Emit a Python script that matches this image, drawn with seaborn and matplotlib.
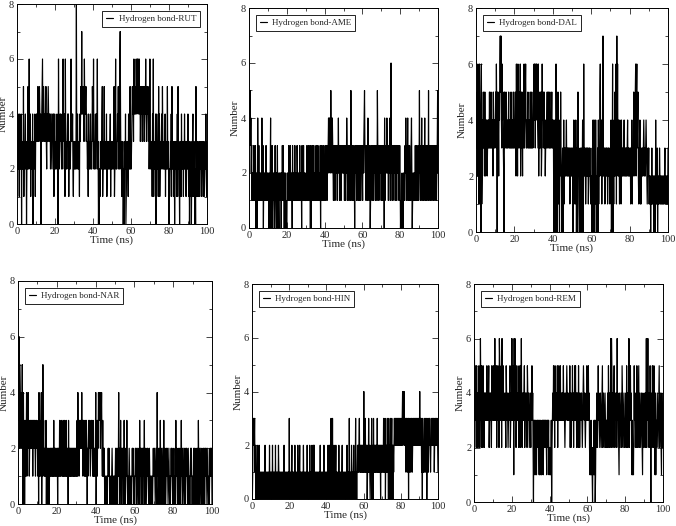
import numpy as np
import pandas as pd
import seaborn as sns
import matplotlib.pyplot as plt
from matplotlib.ticker import MultipleLocator

# hydrogen bond counts, one string per 10 ns block
rut = ["23242314232403232513234230232523632413232402323413",
       "34343543454340345634543434532434543434234323434134",
       "32323431063234343234263434163232343413232363434213",
       "23232382342323143454745454364545343231423234232354",
       "36232342343623020213232451232523232412323232341323",
       "32323512362323435232674231323020232401232314232523",
       "23454536454546546564564534545345453454643454534236",
       "32323142613232402432315241232342532323241323252320",
       "21232415232313023231241523202321423231324232132324",
       "21302123021341232020531231213123231232313212324213"]
ame = ["45353423121213121302120421312121214213021212131212",
       "12102124021301212013120213021021212021313120212010",
       "02121312131212031212131212132121213121203121312121",
       "12131213121303021312131212131321312121303131213121",
       "23132313234243425342432132313232313242313231232323",
       "23132132431323132315231312132023231323123132313232",
       "13234532313231423132013231323123231323153231323231",
       "32313230413232432313234136231313232313231323231232",
       "01012010212132421324132131213420121212131213121312",
       "52313241323132413231323151323132313231323132312352"]
dal = ["34352634165430612435342532434234343534353434253434",
       "45364053425467574364532054345343434534343534343534",
       "34532634265345362453425436345643434534343534353434",
       "56463564654362435435236453453423434534534353434534",
       "34103420643025132042532013204132323423232323123232",
       "23024132413024052310230130243062323123232312323212",
       "20314024031420213041325632413272323123232312323212",
       "24032603142523617362423142314232323423232323423232",
       "23132413235243562563452132413123232343232343212323",
       "12120213121202120412130212132121212121212312121213"]
nar = ["35462543243520413023124132423123232323132323213232",
       "21304132134021523121213021201201212121212131212121",
       "12021213121321213121312131212031212121212121212121",
       "21314231323232423132312131320212323212323213121212",
       "40231324343424342131212010101011212101010121010101",
       "12012102141201312012120312012131010121010101212101",
       "01212012101203121021201213012101212101210101010121",
       "12101210412012103120121013102101212101210101212101",
       "12010131210120102101312012101201212101210101212101",
       "10212010210120312012101201021201212101210101212120"]
hin = ["10132323120101201012010101010101010201010101010201",
       "01010201010102010101021010101010101020101010101010",
       "30101012010101020101010201012010101010201010101020",
       "01010201010201020201010101010101020101010102010101",
       "10102010201030103010201012010101020101010120101010",
       "10101201010301010210101201013010121212312121212121",
       "41213121201213121012130120312121212131212121202121",
       "12131213021213120312013023120212323232323232323232",
       "23234243423231323123032132132312323232323232323232",
       "42323120312123132130213123232122323232312323232321"]
rem = ["46353425342435243642534253424343435343452343432543",
       "35343634352435342653435263453433432543432343452343",
       "63435163654235343425342536324343452343432543432343",
       "24353420313231213232321312312132313232323213232312",
       "21213023435342534343524353435343434353432343454343",
       "34352423435342435353424342534233434323454343234353",
       "43534212131210212313013243235343234323452343234323",
       "32342534243626534234532343426343214323432543234323",
       "34253424362435342131213534234253234523432343214323",
       "34243625363424253043253425321413234323452343214323"]

names = ["RUT", "AME", "DAL", "NAR", "HIN", "REM"]
series = [rut, ame, dal, nar, hin, rem]

# axes boxes in pixels: left, right, top, bottom
boxes = [(17, 207, 4, 224), (249, 438, 8, 228), (476, 668, 8, 232),
         (18, 212, 281, 504), (252, 438, 284, 499), (474, 663, 284, 502)]

sns.set_style("ticks")
plt.rcParams['font.family'] = ['Liberation Serif', 'DejaVu Serif']

W, H = 676, 526
fig = plt.figure(figsize=(W / 100, H / 100), dpi=100)

for name, blocks, (l, r, t, b) in zip(names, series, boxes):
    vals = [int(c) for c in "".join(blocks)]
    df = pd.DataFrame({"Time": np.linspace(0, 100, len(vals)), "Number": vals})
    ax = fig.add_axes([l / W, 1 - b / H, (r - l) / W, (b - t) / H])
    sns.lineplot(data=df, x="Time", y="Number", ax=ax, color="black",
                 linewidth=0.85, label="Hydrogen bond-" + name)
    ax.set_xlim(0, 100)
    ax.set_ylim(0, 8)
    ax.xaxis.set_major_locator(MultipleLocator(20))
    ax.xaxis.set_minor_locator(MultipleLocator(10))
    ax.yaxis.set_major_locator(MultipleLocator(2))
    ax.yaxis.set_minor_locator(MultipleLocator(1))
    ax.tick_params(which="both", direction="in", top=True, right=True,
                   labelsize=7.5, width=0.6, pad=2)
    ax.tick_params(which="major", length=4)
    ax.tick_params(which="minor", length=2)
    for sp in ax.spines.values():
        sp.set_linewidth(0.7)
        sp.set_color("black")
    ax.set_xlabel("Time (ns)", fontsize=8, labelpad=0)
    ax.set_ylabel("Number", fontsize=8, labelpad=1)
    leg = ax.legend(loc="upper right" if name == "RUT" else "upper left",
                    fontsize=6.5, handlelength=0.8, handletextpad=0.6,
                    fancybox=False, edgecolor="black", framealpha=1,
                    borderpad=0.4, borderaxespad=0.8)
    leg.get_frame().set_linewidth(0.6)

fig.savefig("out.png", dpi=100)
